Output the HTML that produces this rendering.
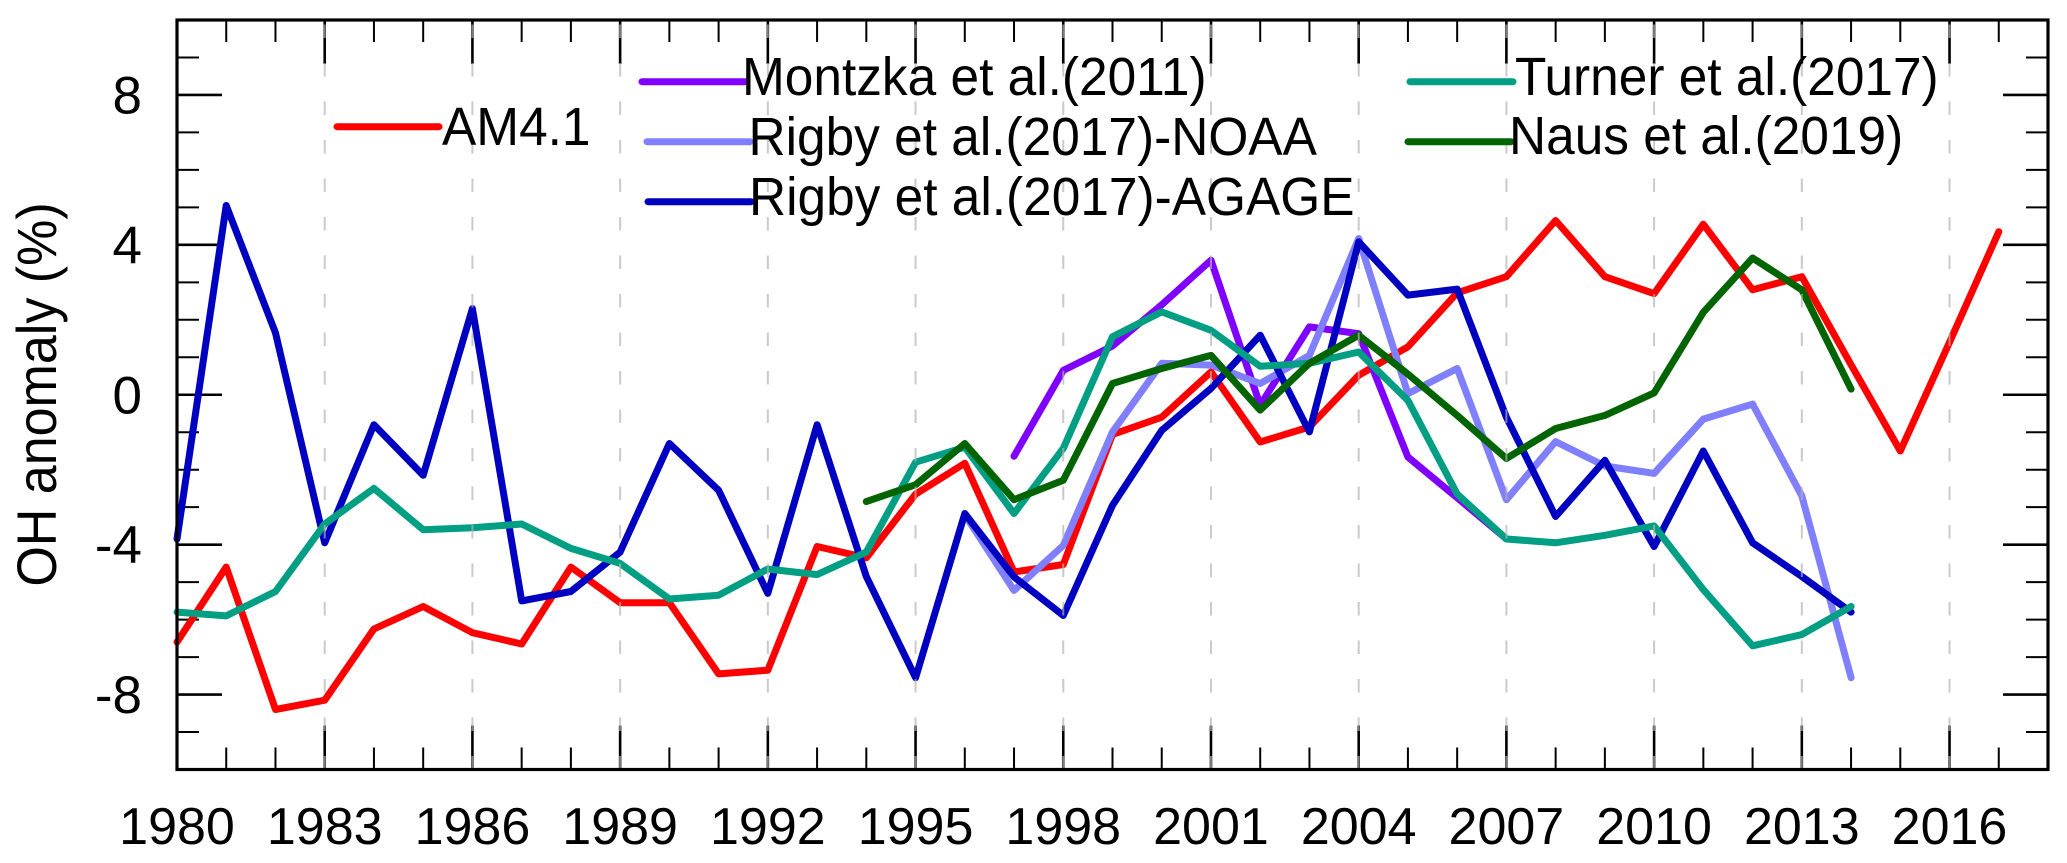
<!DOCTYPE html>
<html>
<head>
<meta charset="utf-8">
<title>OH anomaly chart</title>
<style>
html,body{margin:0;padding:0;background:#fff;width:2067px;height:863px;overflow:hidden}
svg{display:block}
text{font-family:"Liberation Sans",sans-serif;fill:#000}
</style>
</head>
<body>
<svg id="chart" width="2067" height="863" viewBox="0 0 2067 863" xmlns="http://www.w3.org/2000/svg">
  <text transform="translate(56,394.5) rotate(-90) scale(1,1.07)" text-anchor="middle" font-size="52">OH anomaly (%)</text>
</svg>
<script>
const xTickYears = [1980,1983,1986,1989,1992,1995,1998,2001,2004,2007,2010,2013,2016];
const yTickValues = [8,4,0,-4,-8];
const am41Start = 1980;
const am41Values = [-6.6,-4.6,-8.4,-8.15,-6.25,-5.65,-6.35,-6.65,-4.6,-5.55,-5.55,-7.45,-7.35,-4.05,-4.35,-2.65,-1.83,-4.73,-4.53,-1.06,-0.6,0.61,-1.26,-0.86,0.52,1.28,2.72,3.15,4.65,3.15,2.7,4.55,2.8,3.15,0.8,-1.5,1.4,4.35];
const montzkaStart = 1997;
const montzkaValues = [-1.64,0.65,1.3,2.4,3.59,-0.28,1.81,1.63,-1.66,-2.75,-3.85];
const rigbyNoaaStart = 1996;
const rigbyNoaaValues = [-3.2,-5.22,-4.02,-0.99,0.84,0.79,0.3,1.05,4.17,0.03,0.7,-2.8,-1.25,-1.9,-2.1,-0.65,-0.25,-2.7,-7.55];
const rigbyAgageStart = 1980;
const rigbyAgageValues = [-3.85,5.05,1.65,-3.95,-0.8,-2.15,2.3,-5.5,-5.25,-4.2,-1.3,-2.55,-5.3,-0.8,-4.85,-7.55,-3.17,-4.86,-5.89,-2.95,-0.95,0.17,1.59,-0.99,4.08,2.66,2.82,-0.6,-3.25,-1.75,-4.05,-1.5,-3.95,-4.85,-5.8];
const turnerStart = 1980;
const turnerValues = [-5.8,-5.9,-5.25,-3.45,-2.5,-3.6,-3.55,-3.45,-4.1,-4.5,-5.45,-5.35,-4.65,-4.8,-4.2,-1.8,-1.4,-3.17,-1.43,1.55,2.21,1.72,0.76,0.84,1.14,-0.15,-2.65,-3.85,-3.95,-3.75,-3.5,-5.2,-6.7,-6.4,-5.65];
const nausStart = 1994;
const nausValues = [-2.85,-2.4,-1.3,-2.8,-2.28,0.3,0.7,1.05,-0.41,0.84,1.59,0.55,-0.55,-1.7,-0.9,-0.55,0.05,2.2,3.65,2.8,0.15];

const svg = document.getElementById('chart');
const NS = 'http://www.w3.org/2000/svg';
const L = 177, R = 2048, T = 20, B = 769.5;
const xMin = 1980, xMax = 2018, yMin = -10, yMax = 10;
function xScale(v){ return L + (v - xMin) * (R - L) / (xMax - xMin); }
function yScale(v){ return B - (v - yMin) * (B - T) / (yMax - yMin); }
function make(tag, attrs){
  const el = document.createElementNS(NS, tag);
  for (const k in attrs) el.setAttribute(k, attrs[k]);
  svg.appendChild(el);
  return el;
}
function tick(x1, y1, x2, y2, w, name){
  const el = make('line', {x1:x1, y1:y1, x2:x2, y2:y2, stroke:'#000', 'stroke-width':w});
  
  
}
// x ticks (top and bottom)
for (let yr = xMin + 1; yr < xMax; yr++){
  const major = xTickYears.includes(yr);
  const len = major ? 44 : 22;
  const w = major ? 2.6 : 2;
  tick(xScale(yr), T, xScale(yr), T + len, w, 'x-tick-top');
  tick(xScale(yr), B, xScale(yr), B - len, w, 'x-tick-bottom');
}
// y ticks (left and right)
for (let v = yMin + 1; v < yMax; v++){
  const major = yTickValues.includes(v);
  const len = major ? 45 : 22;
  const w = major ? 2.6 : 2;
  tick(L, yScale(v), L + len, yScale(v), w, 'y-tick-left');
  tick(R, yScale(v), R - len, yScale(v), w, 'y-tick-right');
}
// x tick labels
xTickYears.forEach(function(yr){
  const t = make('text', {x:xScale(yr), y:844, 'text-anchor':'middle', 'font-size':52});
  
  
  t.textContent = yr;
});
// y tick labels
yTickValues.forEach(function(v){
  const t = make('text', {x:142, y:yScale(v) + 18.5, 'text-anchor':'end', 'font-size':53});
  
  
  t.textContent = v;
});
// series
function series(start, values, color, name){
  const pts = values.map(function(v, i){ return xScale(start + i).toFixed(1) + ',' + yScale(v).toFixed(1); }).join(' ');
  const el = make('polyline', {points:pts, fill:'none', stroke:color, 'stroke-width':7, 'stroke-linejoin':'round', 'stroke-linecap':'round'});
  
  
}
series(am41Start, am41Values, '#ff0000', 'series-am41');
series(montzkaStart, montzkaValues, '#7f00ff', 'series-montzka-2011');
series(rigbyNoaaStart, rigbyNoaaValues, '#8080ff', 'series-rigby-noaa');
series(rigbyAgageStart, rigbyAgageValues, '#0000c0', 'series-rigby-agage');
series(turnerStart, turnerValues, '#009e83', 'series-turner-2017');
series(nausStart, nausValues, '#006400', 'series-naus-2019');
// dashed grid
xTickYears.slice(1).forEach(function(yr){
  const g = make('line', {x1:xScale(yr), y1:24.5, x2:xScale(yr), y2:B, stroke:'#b4b4b4', 'stroke-opacity':0.7, 'stroke-width':2, 'stroke-dasharray':'13.5 25'});
  
  
});
// frame
const frame = make('rect', {x:L, y:T, width:R - L, height:B - T, fill:'none', stroke:'#000', 'stroke-width':3.2});


// legend
function legend(label, color, x1, x2, ly, tx, ty, name){
  const ln = make('line', {x1:x1, y1:ly, x2:x2, y2:ly, stroke:color, 'stroke-width':7, 'stroke-linecap':'round'});
  
  
  const t = make('text', {transform:'translate(' + tx + ',' + ty + ') scale(1,1.05)', 'font-size':51.4});
  
  
  t.textContent = label;
}
legend('AM4.1', '#ff0000', 337, 439, 126.7, 442, 145, 'legend-am41');
legend('Montzka et al.(2011)', '#7f00ff', 642, 745, 81.7, 742, 95, 'legend-montzka');
legend('Rigby et al.(2017)-NOAA', '#8080ff', 647, 750, 141.7, 748.5, 155, 'legend-rigby-noaa');
legend('Rigby et al.(2017)-AGAGE', '#0000c0', 648, 751, 201.7, 749, 215, 'legend-rigby-agage');
legend('Turner et al.(2017)', '#009e83', 1410, 1513, 81.7, 1515, 95, 'legend-turner');
legend('Naus et al.(2019)', '#006400', 1408, 1511, 141.7, 1509, 154, 'legend-naus');
</script>
</body>
</html>
